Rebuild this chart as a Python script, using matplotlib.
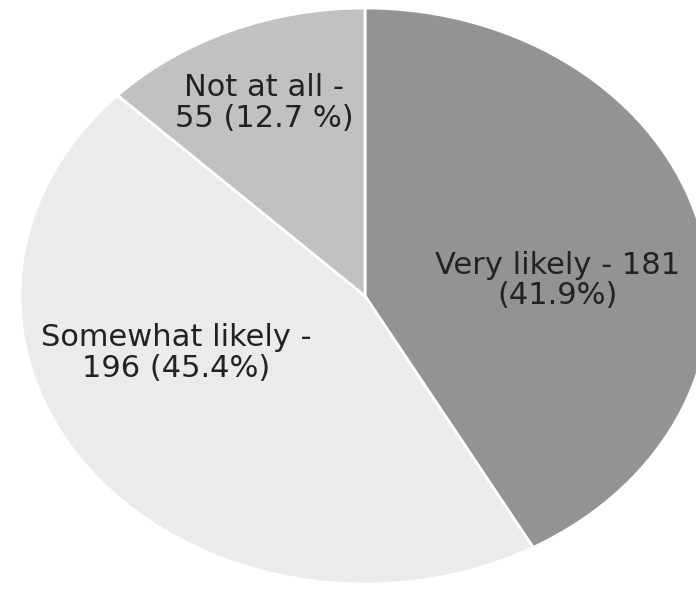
import matplotlib
matplotlib.use("Agg")
import matplotlib.pyplot as plt

categories = ["Very likely", "Somewhat likely", "Not at all"]
counts = [181, 196, 55]
percents = ["41.9%", "45.4%", "12.7 %"]
colors = ["#939393", "#ebebeb", "#c1c1c1"]

labels = ["Very likely - 181\n(41.9%)",
          "Somewhat likely -\n196 (45.4%)",
          "Not at all -\n55 (12.7 %)"]
label_pos = [(0.559, 0.055), (-0.548, -0.198), (-0.293, 0.67)]

fig = plt.figure(figsize=(6.96, 5.89), dpi=100)
ax = fig.add_axes([0, 0, 1, 1])

ax.pie(counts, colors=colors, startangle=90, counterclock=False,
       wedgeprops=dict(edgecolor="white", linewidth=2))
ax.set_aspect("auto")
ax.set_xlim(-365 / 345, (696 - 365) / 345)
ax.set_ylim(-(589 - 296) / 288, 296 / 288)
ax.axis("off")

for text, (x, y) in zip(labels, label_pos):
    ax.text(x, y, text, ha="center", va="center", fontsize=22,
            family="DejaVu Sans", color="#222222", linespacing=1.05)

fig.savefig("out.png", dpi=100)
